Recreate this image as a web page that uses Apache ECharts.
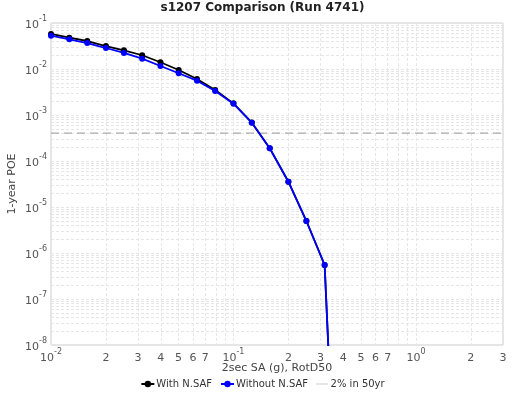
<!DOCTYPE html>
<html>
<head>
<meta charset="utf-8">
<script src="https://cdn.jsdelivr.net/npm/echarts@6/dist/echarts.min.js"></script>
<style>html,body{margin:0;padding:0;background:#fff;}#c{width:525px;height:393px;}</style>
</head>
<body>
<div id="c"></div>
<script>
// Data
var imls = [0.01, 0.0126, 0.0158, 0.02, 0.0251, 0.0316, 0.0398, 0.0501, 0.0631, 0.0794, 0.1, 0.126, 0.158, 0.2, 0.251, 0.316, 0.398];
var withNSAF = [0.0577, 0.0479, 0.0406, 0.0316, 0.0255, 0.0199, 0.0140, 0.0095, 0.00606, 0.00349, 0.00179, 6.85e-4, 1.9e-4, 3.55e-5, 4.96e-6, 5.48e-7, 8e-16];
var withoutNSAF = [0.0530, 0.0442, 0.0367, 0.0286, 0.0223, 0.0168, 0.0116, 0.00807, 0.00557, 0.00333, 0.00176, 6.8e-4, 1.89e-4, 3.55e-5, 4.96e-6, 5.48e-7, 8e-16];
var poe2in50 = 4.04e-4;
var xRange = [0.01, 3];
var yRange = [1e-8, 1e-1];
var xLabelValues = [0.01, 0.02, 0.03, 0.04, 0.05, 0.06, 0.07, 0.1, 0.2, 0.3, 0.4, 0.5, 0.6, 0.7, 1, 2, 3];
var xGridValues = [0.01,0.02,0.03,0.04,0.05,0.06,0.07,0.08,0.09,0.1,0.2,0.3,0.4,0.5,0.6,0.7,0.8,0.9,1,2,3];
var yLabelValues = [1e-8, 1e-7, 1e-6, 1e-5, 1e-4, 1e-3, 1e-2, 1e-1];
var yMantissas = [1, 2, 3, 4, 5, 6, 7, 8, 9];
var seriesNames = ['With N.SAF', 'Without N.SAF', '2% in 50yr'];

var yGridValues = [];
yLabelValues.forEach(function (d) {
  if (d >= yRange[1]) { yGridValues.push(d); return; }
  yMantissas.forEach(function (m) { yGridValues.push(d * m); });
});

function fmt(v) {
  var e = Math.round(Math.log10(v));
  if (Math.abs(Math.log10(v) - e) < 1e-6) {
    return '{b|10}{e|' + e + '}';
  }
  var p = Math.floor(Math.log10(v) + 1e-9);
  return '{b|' + Math.round(v / Math.pow(10, p)) + '}';
}
var rich = {
  b: { fontSize: 11, color: '#555', fontFamily: 'DejaVu Sans', verticalAlign: 'bottom', lineHeight: 16 },
  e: { fontSize: 8, color: '#555', fontFamily: 'DejaVu Sans', verticalAlign: 'top', lineHeight: 16 }
};
var gridLine = { show: true, lineStyle: { color: '#e6e6e6', type: [3, 2], width: 1 } };
var thinLineIcon = 'path://M0,0h0.01v0.01h-0.01zM0,3.5h12v1h-12zM0,8h0.01v0.01h-0.01z';

var chart = echarts.init(document.getElementById('c'), null, { renderer: 'canvas' });
chart.setOption({
  animation: false,
  backgroundColor: '#fff',
  title: {
    text: 's1207 Comparison (Run 4741)', left: 'center', top: 2, padding: 0,
    textStyle: { fontSize: 12, fontWeight: 'bold', color: '#222', fontFamily: 'DejaVu Sans' }
  },
  grid: { left: 51, right: 22, top: 23, bottom: 48, show: true, borderColor: '#cccccc', borderWidth: 1, containLabel: false, outerBoundsMode: 'none' },
  legend: {
    bottom: 2, left: 'center', itemWidth: 13, itemHeight: 8, itemGap: 8, padding: 2,
    textStyle: { fontSize: 10, color: '#333', fontFamily: 'DejaVu Sans', padding: [0, 0, 0, -3] },
    data: [
      { name: seriesNames[0] },
      { name: seriesNames[1] },
      { name: seriesNames[2], icon: thinLineIcon, itemStyle: { color: '#cccccc' } }
    ]
  },
  xAxis: {
    type: 'log', logBase: 10, min: xRange[0], max: xRange[1],
    name: '2sec SA (g), RotD50', nameLocation: 'middle', nameGap: 18, nameMoveOverlap: false,
    nameTextStyle: { fontSize: 11, color: '#444', fontFamily: 'DejaVu Sans' },
    axisLine: { show: false },
    axisTick: { show: false, customValues: xGridValues },
    axisLabel: { customValues: xLabelValues, formatter: fmt, rich: rich, margin: 3 },
    splitLine: gridLine
  },
  yAxis: {
    type: 'log', logBase: 10, min: yRange[0], max: yRange[1],
    name: '1-year POE', nameLocation: 'middle', nameGap: 33, nameMoveOverlap: false,
    nameTextStyle: { fontSize: 11, color: '#444', fontFamily: 'DejaVu Sans' },
    axisLine: { show: false },
    axisTick: { show: false, customValues: yGridValues },
    axisLabel: { customValues: yLabelValues, formatter: fmt, rich: rich, margin: 4 },
    splitLine: gridLine
  },
  series: [
    {
      name: seriesNames[0], type: 'line', clip: true,
      data: imls.map(function (x, i) { return [x, withNSAF[i]]; }),
      symbol: 'circle', symbolSize: 6, color: '#000',
      lineStyle: { color: '#000', width: 1.8 }, itemStyle: { color: '#000' }, z: 2
    },
    {
      name: seriesNames[1], type: 'line', clip: true,
      data: imls.map(function (x, i) { return [x, withoutNSAF[i]]; }),
      symbol: 'circle', symbolSize: 6, color: '#0000ff',
      lineStyle: { color: '#0000ff', width: 1.8 }, itemStyle: { color: '#0000ff' }, z: 3
    },
    {
      name: seriesNames[2], type: 'line', clip: true,
      data: xRange.map(function (x) { return [x, poe2in50]; }),
      symbol: 'none', color: '#aaaaaa',
      lineStyle: { color: '#aaaaaa', width: 1.2, type: [8, 5] }, z: 1
    }
  ]
});
</script>
</body>
</html>
